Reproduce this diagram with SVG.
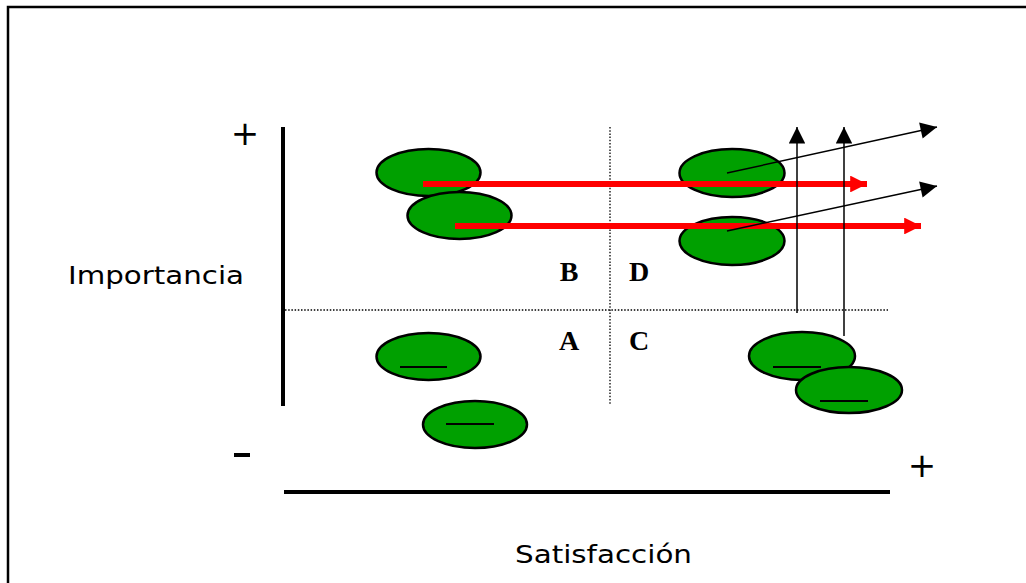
<svg xmlns="http://www.w3.org/2000/svg" width="1026" height="583" viewBox="0 0 1026 583">
<style>
.node ellipse{fill:#00a000;stroke:#000;stroke-width:2.5}
.dash{stroke:#000;stroke-width:2}
.axis{stroke:#000;stroke-width:4}
.dot{stroke:#000;stroke-width:1.3;stroke-dasharray:1.5 1.7}
.red{stroke:#ff0000;stroke-width:6}
.blk{stroke:#000;stroke-width:1.5}
.lbl{font-family:"DejaVu Sans",sans-serif;font-size:25px;fill:#000}
.q{font-family:"Liberation Serif",serif;font-weight:bold;font-size:28px;fill:#000;text-anchor:middle}
.sign{font-family:"DejaVu Sans",sans-serif;font-size:34px;fill:#000;text-anchor:middle}
</style>
<defs>
<marker id="ra" viewBox="0 0 10 10" refX="10" refY="5" markerWidth="3" markerHeight="2.8" orient="auto" markerUnits="strokeWidth"><path d="M0,0L10,5L0,10z" fill="#ff0000"/></marker>
<marker id="ba" viewBox="0 0 10 10" refX="10" refY="5" markerWidth="12" markerHeight="11" orient="auto" markerUnits="strokeWidth"><path d="M0,0L10,5L0,10z" fill="#000"/></marker>
</defs>
<rect width="1026" height="583" fill="#fff"/>
<g id="frame"><path d="M8,600V7H1030" fill="none" stroke="#000" stroke-width="2.5"/></g>
<g id="axes">
<line class="axis" x1="283" y1="127" x2="283" y2="406"/>
<line class="axis" x1="284" y1="492" x2="890" y2="492"/>
<line class="dot" x1="285" y1="310" x2="888" y2="310"/>
<line class="dot" x1="610" y1="127" x2="610" y2="405"/>
<text class="sign" x="245" y="145">+</text>
<rect x="234" y="453" width="16" height="4" fill="#000"/>
<text class="sign" x="922" y="477">+</text>
<text class="lbl" x="68" y="284" textLength="176" lengthAdjust="spacingAndGlyphs">Importancia</text>
<text class="lbl" x="515" y="563" textLength="177" lengthAdjust="spacingAndGlyphs">Satisfacción</text>
<text class="q" x="569" y="281">B</text>
<text class="q" x="639" y="281">D</text>
<text class="q" x="569" y="350">A</text>
<text class="q" x="639" y="350">C</text>
</g>
<g id="n1" class="node"><ellipse cx="428.5" cy="172.5" rx="52" ry="23.5"/></g>
<g id="n2" class="node"><ellipse cx="459.5" cy="215.5" rx="52" ry="23.5"/></g>
<g id="n3" class="node"><ellipse cx="732" cy="173" rx="52.5" ry="24"/></g>
<g id="n4" class="node"><ellipse cx="732" cy="241" rx="52.5" ry="24"/></g>
<g id="n5" class="node"><ellipse cx="428.5" cy="356.5" rx="52" ry="23.5"/><line class="dash" x1="400" y1="367" x2="447" y2="367"/></g>
<g id="n6" class="node"><ellipse cx="475" cy="424.5" rx="52" ry="23.5"/><line class="dash" x1="446" y1="424" x2="494" y2="424"/></g>
<g id="n7" class="node"><ellipse cx="802" cy="356" rx="53" ry="24"/><line class="dash" x1="773" y1="367" x2="821" y2="367"/></g>
<g id="n8" class="node"><ellipse cx="849" cy="390" rx="53" ry="23"/><line class="dash" x1="820" y1="401" x2="868" y2="401"/></g>
<g id="connectors">
<line class="red" x1="423" y1="184" x2="867" y2="184" marker-end="url(#ra)"/>
<line class="red" x1="455" y1="226" x2="921" y2="226" marker-end="url(#ra)"/>
<line class="blk" x1="727" y1="173" x2="937" y2="127" marker-end="url(#ba)"/>
<line class="blk" x1="727" y1="231" x2="937" y2="186" marker-end="url(#ba)"/>
<line class="blk" x1="797" y1="313" x2="797" y2="127" marker-end="url(#ba)"/>
<line class="blk" x1="844" y1="336" x2="844" y2="127" marker-end="url(#ba)"/>
</g>
</svg>
